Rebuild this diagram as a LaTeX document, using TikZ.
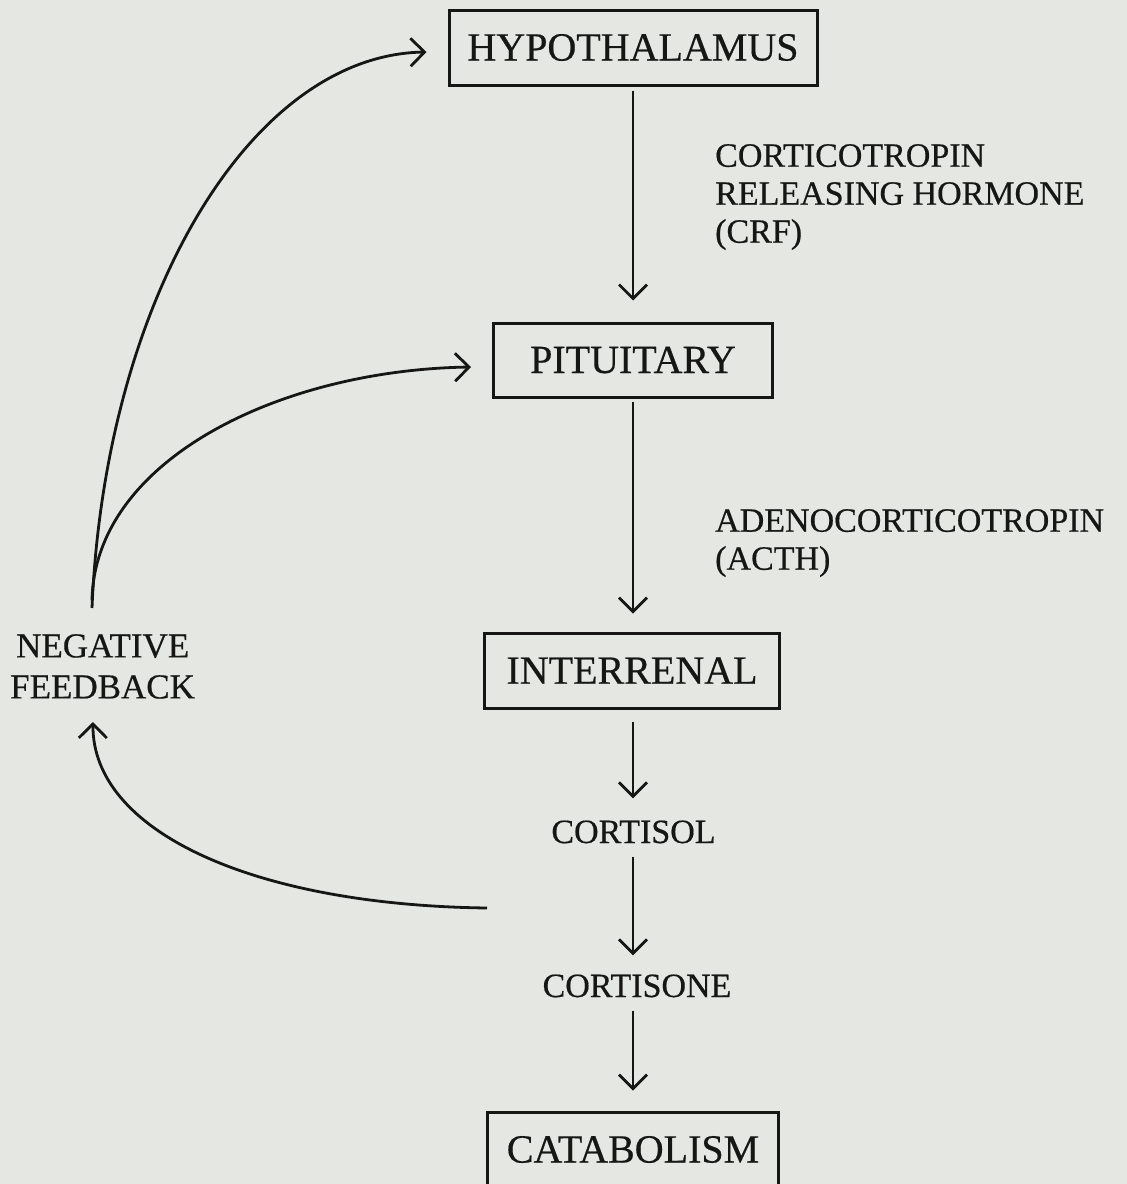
\documentclass[tikz,border=0pt]{standalone}
\usepackage{fontspec}
\setmainfont{Liberation Serif}[FakeBold=0.5]
\usetikzlibrary{arrows.meta,calc}
\definecolor{paper}{RGB}{229,232,226}
\definecolor{ink}{RGB}{22,22,20}
\begin{document}
\begin{tikzpicture}[x=1pt,y=-1pt,
  box/.style={draw=ink,line width=3pt,inner sep=0pt,minimum height=75pt,
              font=\fontsize{40}{48}\selectfont,text=ink},
  lbl/.style={inner sep=0pt,font=\fontsize{34}{38}\selectfont,text=ink},
  link/.style={draw=ink,line width=2.8pt,-{Straight Barb[length=14pt,width=28pt]}}]
\useasboundingbox (0,0) rectangle (1127,1184);
\fill[paper] (0,0) rectangle (1127,1184);

% boxes
\node[box,minimum width=368pt] (hyp) at (633,47.5) {HYPOTHALAMUS};
\node[box,minimum width=279pt,minimum height=74pt] (pit) at (633,360) {PITUITARY};
\node[box,minimum width=295pt] (int) at (632,670.5) {INTERRENAL};
\node[box,minimum width=291pt] (cat) at (633,1149.5) {CATABOLISM};

% plain labels
\node[lbl,anchor=base] (csl) at (633.5,843) {CORTISOL};
\node[lbl,anchor=base] (csn) at (637,997) {CORTISONE};
\node[lbl,anchor=north west,align=left] (crf) at (715,144)
  {CORTICOTROPIN\\RELEASING HORMONE\\(CRF)};
\node[lbl,anchor=north west,align=left] (acth) at (715,509)
  {ADENOCORTICOTROPIN\\(ACTH)};
\node[lbl,anchor=north west,align=left,font=\fontsize{35}{41}\selectfont] (nf) at (10,634)
  {\hspace*{6pt}NEGATIVE\\FEEDBACK};

% main chain
\draw[link,shorten <=4pt,shorten >=21pt] (hyp.south) -- (hyp.south |- pit.north);
\draw[link,shorten <=3pt,shorten >=18pt] (pit.south) -- (pit.south |- int.north);
\draw[link,shorten <=12pt,shorten >=22pt] (pit.south |- int.south) -- (pit.south |- csl.north);
\draw[link,shorten <=13pt,shorten >=19pt] (pit.south |- csl.south) -- (pit.south |- csn.north);
\draw[link,shorten <=13pt,shorten >=20pt] (pit.south |- csn.south) -- (cat.north);

% feedback loops
\coordinate (fbtop) at (92,608);
\coordinate (fbfork) at (92,600);
\coordinate (fbbot) at (93,722);
\coordinate (csout) at (487,908);
\draw[link] (fbtop) .. controls (105,300) and (250,55) .. ([xshift=-21pt,yshift=-4.5pt]hyp.west);
\draw[link] (fbfork) .. controls (95,460) and (280,370) .. ([xshift=-21pt,yshift=-7pt]pit.west);
\draw[link] (csout) .. controls (250,905) and (92,830) .. (fbbot);
\end{tikzpicture}
\end{document}
